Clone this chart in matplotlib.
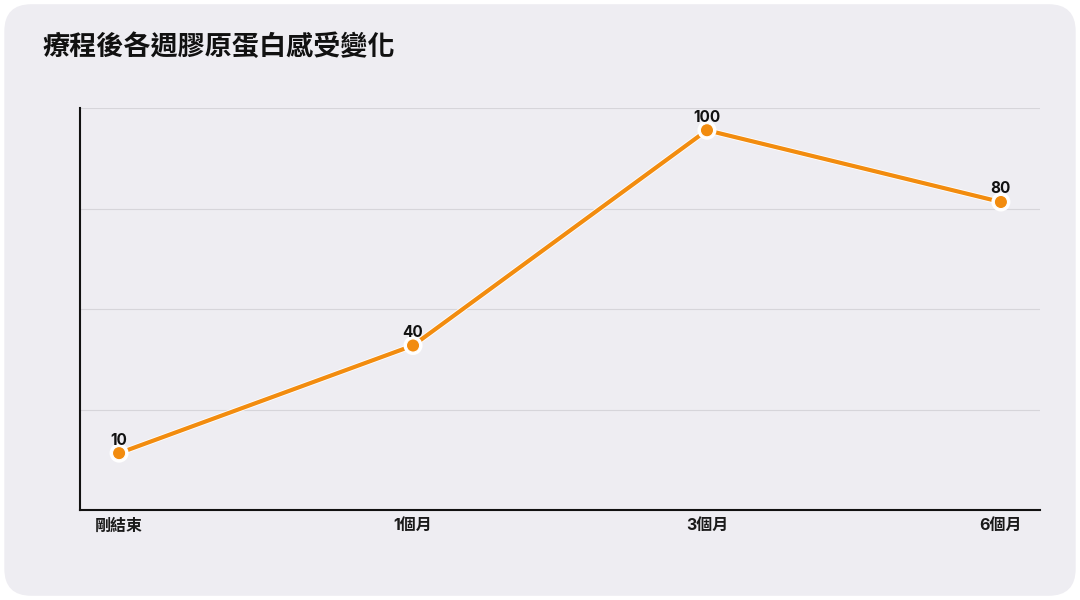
import matplotlib.pyplot as plt
import matplotlib.patheffects as pe
from matplotlib.patches import FancyBboxPatch

plt.rcParams['font.family'] = ['Inter', 'Noto Sans CJK TC', 'DejaVu Sans']

stages = ["剛結束", "1個月", "3個月", "6個月"]
scores = [10, 40, 100, 80]

bg = "#EEEDF2"
orange = "#F28C0F"

fig = plt.figure(figsize=(10.8, 6), dpi=100, facecolor="white")
card = FancyBboxPatch((0.004, 0.007), 0.992, 0.986,
                      boxstyle="round,pad=0,rounding_size=0.025",
                      transform=fig.transFigure, facecolor=bg,
                      edgecolor="none", mutation_aspect=1.8, zorder=-10)
fig.patches.append(card)

ax = fig.add_axes([80 / 1080, 1 - 510 / 600, 960 / 1080, 402 / 600])
ax.set_facecolor("none")
ax.set_zorder(2)

x = range(len(stages))
ax.plot(x, scores, color=orange, lw=3, marker="o", ms=9.5,
        markeredgecolor="white", markeredgewidth=0.8, zorder=3,
        path_effects=[pe.Stroke(linewidth=4.2, foreground="white"), pe.Normal()])

for xi, v in zip(x, scores):
    ax.annotate(str(v), (xi, v), xytext=(0, 4), textcoords="offset points",
                ha="center", va="bottom", fontsize=11, fontweight="bold",
                color="#111111", zorder=4)

ax.set_xlim(-0.133, 3.133)
ax.set_ylim(-5.85, 106.2)
for gy in [22.1, 50.2, 78.1, 106.2]:
    ax.axhline(gy, color="#D6D5DA", lw=0.8, zorder=1)

ax.set_xticks(list(x))
ax.set_xticklabels(stages, fontsize=11.5, color="#1A1A1A", fontweight="bold")
ax.tick_params(axis="x", length=0, pad=6)
ax.set_yticks([])

for s in ["top", "right"]:
    ax.spines[s].set_visible(False)
for s in ["left", "bottom"]:
    ax.spines[s].set_color("#111111")
    ax.spines[s].set_linewidth(1.5)

fig.text(42 / 1080, 1 - 48 / 600, "療程後各週膠原蛋白感受變化",
         fontsize=19.5, fontweight="bold", color="#111111",
         ha="left", va="center")

fig.savefig("out.png", dpi=100, facecolor="white")
